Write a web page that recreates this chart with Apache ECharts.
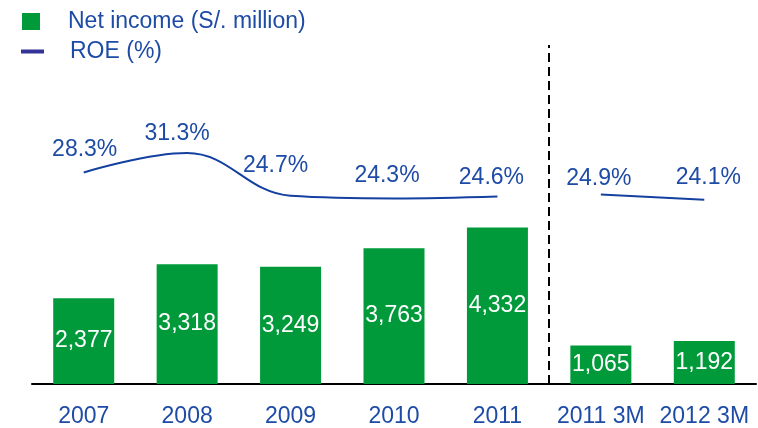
<!DOCTYPE html>
<html>
<head>
<meta charset="utf-8">
<script src="https://cdn.jsdelivr.net/npm/echarts@6/dist/echarts.min.js"></script>
<style>
  html, body { margin: 0; padding: 0; background: #fff; }
</style>
</head>
<body>
<div id="main" style="width: 758px; height: 428px"></div>
<script>
// data
var categories = ["2007", "2008", "2009", "2010", "2011", "2011 3M", "2012 3M"];
var netIncome = [2377, 3318, 3249, 3763, 4332, 1065, 1192]; // S/. million
var roe = [28.3, 31.3, 24.7, 24.3, 24.6, 24.9, 24.1]; // %
var yearCount = 5; // first 5 are full years, rest are quarters

// small hand nudges of the ROE labels, like the original slide
var roeLabelNudge = [[1, 0], [-10, 3], [-15, -8], [-7, 0], [-6, 4], [-2, 7], [4, 0]];

var blue = "#1E4BA6";
var font = "Liberation Sans";

// split ROE into the yearly part and the 3M part so the line breaks
function roePart(fromYears) {
  return roe.map(function (v, i) {
    if ((i < yearCount) !== fromYears) return "-";
    return { value: v, label: { offset: roeLabelNudge[i] } };
  });
}

var roeLabel = {
  show: true,
  position: "top",
  distance: 11,
  color: blue,
  fontSize: 23,
  fontFamily: font,
  formatter: function (p) { return p.value.toFixed(1) + "%"; }
};

var myChart = echarts.init(document.getElementById("main"));
var option = {
  animation: false,
  legend: [
    {
      data: [{ name: "Net income (S/. million)", icon: "rect" }],
      left: 22,
      top: 10,
      padding: 0,
      itemWidth: 18,
      itemHeight: 17,
      textStyle: { color: blue, fontSize: 23, fontFamily: font, padding: [0, 0, 0, 23] }
    },
    {
      data: [{ name: "ROE (%)", icon: "rect", itemStyle: { color: "#333399" } }],
      left: 21,
      top: 40,
      padding: 0,
      itemWidth: 23,
      itemHeight: 4,
      textStyle: { color: blue, fontSize: 23, fontFamily: font, padding: [0, 0, 0, 21] }
    }
  ],
  grid: { left: 32, right: 2, top: 45, bottom: 44 },
  xAxis: [
    {
      type: "category",
      data: categories,
      axisLine: { lineStyle: { color: "#000", width: 2 } },
      axisTick: { show: false },
      axisLabel: { color: blue, fontSize: 23, fontFamily: font, margin: 21, interval: 0 }
    },
    // hidden helper axis spanning the same bands, used for the divider line
    { type: "value", min: 0, max: categories.length, show: false }
  ],
  yAxis: [
    { type: "value", min: 0, max: 9390, show: false },
    { type: "value", min: -4.3, max: 47.94, show: false }
  ],
  series: [
    {
      name: "Net income (S/. million)",
      type: "bar",
      data: netIncome,
      barWidth: 61,
      itemStyle: { color: "#009A3B" },
      label: {
        show: true,
        position: "inside",
        color: "#fff",
        fontSize: 23,
        fontFamily: font,
        formatter: function (p) { return p.value.toLocaleString("en-US"); }
      }
    },
    {
      name: "ROE (%)",
      type: "line",
      yAxisIndex: 1,
      data: roePart(true),
      smooth: 0.4,
      symbolSize: 0,
      lineStyle: { color: "#1440A0", width: 2 },
      itemStyle: { color: "#1440A0" },
      label: roeLabel
    },
    {
      name: "ROE (%)",
      type: "line",
      yAxisIndex: 1,
      data: roePart(false),
      smooth: 0.4,
      symbolSize: 0,
      lineStyle: { color: "#1440A0", width: 2 },
      itemStyle: { color: "#1440A0" },
      label: roeLabel
    },
    {
      // dashed divider between the years and the 3M figures
      name: "divider",
      type: "line",
      xAxisIndex: 1,
      data: [],
      markLine: {
        silent: true,
        symbol: "none",
        label: { show: false },
        lineStyle: { color: "#000", width: 2, type: [9, 5] },
        data: [{ xAxis: yearCount }]
      }
    }
  ]
};
myChart.setOption(option);
</script>
</body>
</html>
